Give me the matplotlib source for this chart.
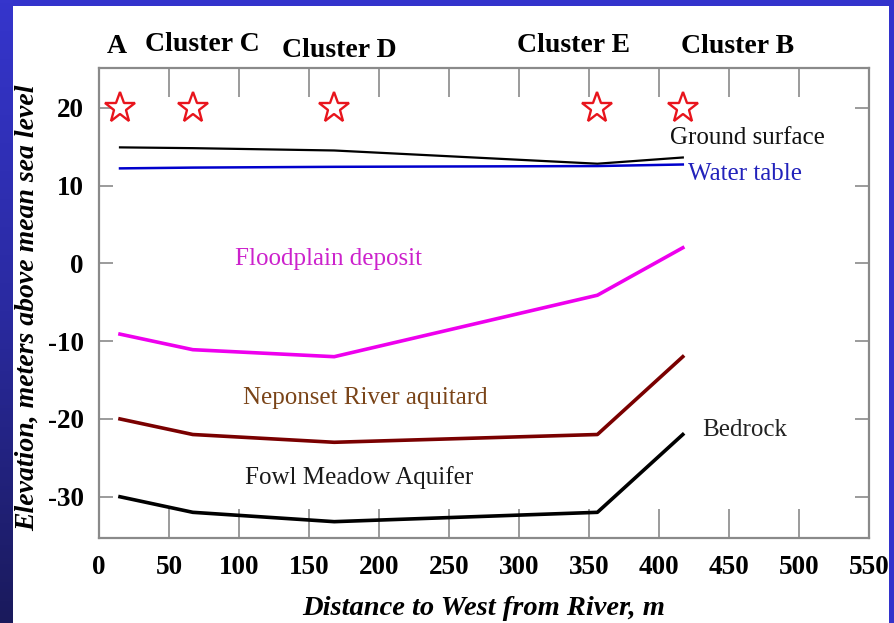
import numpy as np
import matplotlib
matplotlib.use('Agg')
import matplotlib.pyplot as plt
from matplotlib.patches import Rectangle
from matplotlib.colors import LinearSegmentedColormap

plt.rcParams['font.family'] = ['Liberation Serif', 'DejaVu Serif']
plt.rcParams['axes.unicode_minus'] = False

# distance of the well clusters (m)
distance = [15, 67, 168, 356, 417]

# elevations (m above mean sea level)
ground_surface = [14.9, 14.8, 14.5, 12.8, 13.6]
water_table = [12.2, 12.3, 12.4, 12.5, 12.7]
floodplain = [-9.1, -11.1, -12.0, -4.1, 2.0]
neponset = [-20.0, -22.0, -23.0, -22.0, -12.0]
bedrock = [-30.0, -32.0, -33.2, -32.0, -22.0]

star_level = [20, 20, 20, 20, 20]

cluster_names = ['A', 'Cluster C', 'Cluster D', 'Cluster E', 'Cluster B']
cluster_x = [13, 74, 172, 339, 456]
cluster_y = [1.046, 1.049, 1.038, 1.048, 1.046]

x_ticks = [0, 50, 100, 150, 200, 250, 300, 350, 400, 450, 500, 550]
y_ticks = [-30, -20, -10, 0, 10, 20]

W, H = 894, 623
fig = plt.figure(figsize=(W / 100, H / 100), dpi=100)
fig.patch.set_facecolor('#3333cc')

# slide background: gradient strip on the left, white panel
bg = fig.add_axes([0, 0, 1, 1], zorder=-10)
bg.axis('off')
cmap = LinearSegmentedColormap.from_list('strip', ['#3535cc', '#2a2aa0', '#1a1a5c'])
bg.imshow(np.linspace(0, 1, 200).reshape(-1, 1), aspect='auto', cmap=cmap,
          extent=(0, 13, H, 0))
bg.add_patch(Rectangle((13, 6), 889 - 13, H - 6, facecolor='white', edgecolor='none'))
bg.set_xlim(0, W)
bg.set_ylim(H, 0)

ax = fig.add_axes([99 / W, 1 - 538 / H, (869 - 99) / W, (538 - 68) / H])
ax.set_facecolor('white')

ax.plot(distance, ground_surface, color='black', lw=1.6)
ax.plot(distance, water_table, color='#0000cc', lw=1.8)
ax.plot(distance, floodplain, color='#ee00ee', lw=2.6)
ax.plot(distance, neponset, color='#7a0000', lw=2.6)
ax.plot(distance, bedrock, color='black', lw=2.6)
ax.plot(distance, star_level, ls='none', marker='*', markersize=23,
        markerfacecolor='white', markeredgecolor='#e8141c', markeredgewidth=1.7)

ax.text(408, 16.1, 'Ground surface', fontsize=18, color='#111111', va='center', ha='left')
ax.text(421, 11.5, 'Water table', fontsize=18, color='#2222bb', va='center', ha='left')
ax.text(164, 0.6, 'Floodplain deposit', fontsize=18, color='#cc22cc', va='center', ha='center')
ax.text(190, -17.3, 'Neponset River aquitard', fontsize=18, color='#7a4418', va='center', ha='center')
ax.text(186, -27.5, 'Fowl Meadow Aquifer', fontsize=18, color='#1a1a1a', va='center', ha='center')
ax.text(461, -21.4, 'Bedrock', fontsize=18, color='#222222', va='center', ha='center')

for name, cx, cy in zip(cluster_names, cluster_x, cluster_y):
    ax.text(cx, cy, name, transform=ax.get_xaxis_transform(), fontsize=20,
            fontweight='bold', ha='center', va='center', clip_on=False)

ax.set_xlim(0, 550)
ax.set_ylim(-35.3, 25.1)
ax.set_xticks(x_ticks)
ax.set_yticks(y_ticks)

for s in ax.spines.values():
    s.set_color('#8a8a8a')
    s.set_linewidth(1.6)

ax.tick_params(axis='x', direction='in', length=21, width=1.2, color='#8a8a8a',
               top=True, bottom=True, pad=12, labelsize=19.5)
ax.tick_params(axis='y', direction='in', length=10, width=1.2, color='#8a8a8a',
               left=True, right=True, pad=11, labelsize=19.5)
for lbl in ax.get_xticklabels() + ax.get_yticklabels():
    lbl.set_fontweight('bold')

ax.set_xlabel('Distance to West from River, m', fontsize=20.5, fontweight='bold',
              fontstyle='italic', labelpad=12)
ax.set_ylabel('Elevation, meters above mean sea level', fontsize=20, fontweight='bold',
              fontstyle='italic', va='center')
ax.yaxis.set_label_coords(-0.093, 0.49)

fig.savefig('out.png', dpi=100, facecolor=fig.get_facecolor())
